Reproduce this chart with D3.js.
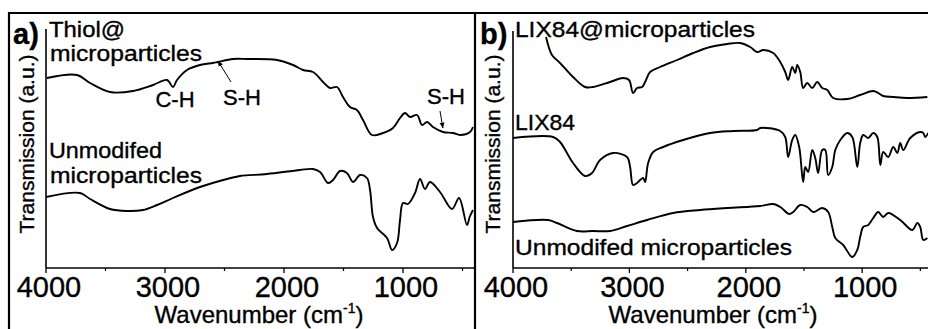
<!DOCTYPE html>
<html>
<head>
<meta charset="utf-8">
<script src="https://cdn.jsdelivr.net/npm/d3@7"></script>
<style>
  body { margin: 0; background: #fff; }
  svg { display: block; font-family: "Liberation Sans", Arial, sans-serif; }
  text { stroke: #000; stroke-width: 0.35px; }
</style>
</head>
<body>
<svg id="chart" width="928" height="329"></svg>
<script>
// panel a, Thiol@microparticles
const thiolWn = [3992, 3739, 3630, 3462, 3269, 3101, 2983, 2933, 2899, 2815, 2706, 2597, 2555, 2429, 2311, 2059, 1924, 1840, 1756, 1672, 1613, 1555, 1504, 1445, 1387, 1336, 1261, 1168, 1084, 1025, 983, 941, 882, 840, 798, 748, 664, 580, 521, 437, 412];
const thiolT  = [190, 193, 185, 176, 177, 183, 188, 181, 188, 198, 203, 205, 206, 209, 209, 208, 203, 198, 196, 186, 180, 181, 171, 161, 158, 148, 133, 135, 140, 150, 155, 151, 153, 143, 146, 141, 136, 135, 133, 136, 141];

// panel a, unmodified microparticles
const unmodAWn = [4000, 3714, 3630, 3462, 3319, 3185, 3067, 2933, 2706, 2479, 2370, 2143, 1866, 1756, 1697, 1630, 1588, 1529, 1471, 1420, 1361, 1303, 1277, 1252, 1218, 1134, 1092, 1050, 1025, 1000, 958, 899, 857, 815, 773, 689, 588, 529, 462, 440, 412];
const unmodAT  = [71, 75, 69, 59, 57, 58, 63, 70, 81, 89, 92, 94, 98, 99, 96, 85, 88, 97, 95, 86, 93, 90, 78, 51, 40, 30, 18, 25, 48, 65, 64, 75, 89, 79, 86, 76, 59, 70, 43, 51, 58];

// panel b, LIX84@microparticles
const lixMpWn = [3716, 3665, 3596, 3484, 3381, 3312, 3166, 3054, 3003, 2968, 2934, 2891, 2865, 2822, 2736, 2590, 2452, 2306, 2160, 2048, 1962, 1902, 1850, 1764, 1704, 1661, 1636, 1601, 1575, 1558, 1532, 1507, 1472, 1429, 1386, 1343, 1300, 1249, 1128, 1017, 905, 862, 819, 733, 612, 440];
const lixMpT  = [231, 213, 205, 191, 181, 181, 186, 190, 188, 175, 180, 181, 186, 196, 201, 208, 215, 221, 224, 225, 221, 216, 218, 215, 206, 196, 188, 201, 195, 203, 196, 180, 185, 180, 186, 180, 178, 170, 169, 173, 177, 175, 172, 171, 170, 171];

// panel b, LIX84
const lixWn = [4000, 3656, 3596, 3484, 3381, 3321, 3252, 3140, 3020, 2994, 2968, 2934, 2908, 2882, 2865, 2839, 2796, 2710, 2538, 2306, 2108, 1902, 1876, 1704, 1661, 1636, 1601, 1575, 1541, 1507, 1489, 1464, 1429, 1403, 1378, 1343, 1317, 1292, 1257, 1231, 1188, 1128, 1085, 1042, 1017, 991, 948, 905, 870, 844, 819, 776, 733, 698, 673, 647, 587, 501, 475, 458, 432];
const lixT  = [130, 131, 126, 105, 92, 95, 108, 115, 111, 101, 83, 85, 88, 90, 86, 105, 116, 121, 128, 135, 137, 138, 140, 137, 131, 111, 128, 133, 121, 86, 101, 96, 118, 110, 95, 118, 118, 93, 101, 118, 128, 135, 131, 101, 125, 133, 130, 135, 131, 103, 116, 111, 121, 115, 125, 118, 130, 136, 135, 131, 135];

// panel b, unmodified microparticles
const unmodBWn = [4000, 3699, 3622, 3450, 3312, 3166, 3020, 2848, 2624, 2392, 2160, 1876, 1764, 1704, 1627, 1592, 1532, 1472, 1420, 1343, 1292, 1257, 1231, 1163, 1085, 1042, 1017, 991, 948, 905, 862, 819, 776, 673, 569, 526, 501, 475, 440];
const unmodBT  = [46, 48, 45, 37, 37, 37, 42, 48, 55, 58, 60, 62, 64, 61, 54, 56, 63, 61, 56, 60, 56, 41, 30, 23, 11, 18, 31, 41, 43, 50, 56, 51, 55, 48, 38, 45, 41, 28, 30];

const xTicks = [4000, 3000, 2000, 1000];
const xMinor = [3500, 2500, 1500, 500];

const svg = d3.select("#chart");
const yTop = 29, yBottom = 268;
const y = d3.scaleLinear().domain([0, 240]).range([yBottom, yBottom - 240]);

const zip = (wn, t) => wn.map((w, i) => ({ w: w, t: t[i] }));

// frame lines
svg.append("path")
  .attr("d", "M9,329 V13 H928 M475,13 V329")
  .attr("fill", "none").attr("stroke", "#000").attr("stroke-width", 2.2);

const defs = svg.append("defs");
defs.append("marker").attr("id", "arrow")
  .attr("viewBox", "0 0 10 10").attr("refX", 9).attr("refY", 5)
  .attr("markerWidth", 6).attr("markerHeight", 6).attr("orient", "auto")
  .append("path").attr("d", "M0,1 L10,5 L0,9 Z").attr("fill", "#000");

function drawPanel(opt) {
  const x = d3.scaleLinear().domain([4000, 400]).range([opt.x0, opt.x1]);
  const g = svg.append("g");

  defs.append("clipPath").attr("id", "clip" + opt.id)
    .append("rect").attr("x", opt.x0).attr("y", 0)
    .attr("width", opt.clipR - opt.x0).attr("height", 329);

  // axes
  g.append("line").attr("x1", opt.x0).attr("x2", opt.x0)
    .attr("y1", opt.axTop).attr("y2", yBottom)
    .attr("stroke", "#000").attr("stroke-width", 1.6);
  g.append("line").attr("x1", opt.x0).attr("x2", opt.clipR)
    .attr("y1", yBottom).attr("y2", yBottom)
    .attr("stroke", "#000").attr("stroke-width", 1.6);

  g.selectAll(".maj").data(xTicks).enter().append("line")
    .attr("x1", d => x(d)).attr("x2", d => x(d))
    .attr("y1", yBottom).attr("y2", yBottom + 5)
    .attr("stroke", "#000").attr("stroke-width", 1.3);
  g.selectAll(".min").data(xMinor).enter().append("line")
    .attr("x1", d => x(d)).attr("x2", d => x(d))
    .attr("y1", yBottom).attr("y2", yBottom + 3)
    .attr("stroke", "#000").attr("stroke-width", 1.2);

  g.selectAll(".tl").data(xTicks).enter().append("text")
    .attr("x", d => x(d) + 3).attr("y", 297)
    .attr("text-anchor", "middle").attr("font-size", 29)
    .text(d => d);

  const title = g.append("text")
    .attr("x", opt.titleX).attr("y", 323)
    .attr("text-anchor", "middle").attr("font-size", 24);
  title.append("tspan").text("Wavenumber (cm");
  title.append("tspan").attr("font-size", 14).attr("dy", -10).text("-1");
  title.append("tspan").attr("dy", 10).text(")");

  g.append("text")
    .attr("transform", `translate(${opt.yLabX},144) rotate(-90)`)
    .attr("text-anchor", "middle").attr("font-size", 21)
    .text("Transmission (a.u.)");

  g.append("text").attr("x", opt.tagX).attr("y", 44)
    .attr("font-size", 29).attr("font-weight", "bold").text(opt.tag);

  const line = d3.line().x(d => x(d.w)).y(d => y(d.t)).curve(d3.curveCatmullRom.alpha(0.5));
  opt.series.forEach(s => {
    g.append("path").datum(zip(s[0], s[1]))
      .attr("clip-path", `url(#clip${opt.id})`)
      .attr("d", line)
      .attr("fill", "none").attr("stroke", "#000")
      .attr("stroke-width", 1.9).attr("stroke-linejoin", "round");
  });

  opt.labels.forEach(l => {
    const t = g.append("text").attr("x", l[0]).attr("y", l[1])
      .attr("font-size", l[3] || 21.5).attr("text-anchor", l[4] || "start").text(l[2]);
    if (l[5]) t.attr("textLength", l[5]).attr("lengthAdjust", "spacingAndGlyphs");
  });
  return { g: g, x: x };
}

const pa = drawPanel({
  id: "a", x0: 46, x1: 474.4, clipR: 474, axTop: yTop, titleX: 259, yLabX: 34, tagX: 13, tag: "a)",
  series: [[thiolWn, thiolT], [unmodAWn, unmodAT]],
  labels: [
    [49, 37, "Thiol@", 21.5, "start", 76], [50, 61, "microparticles", 21.5, "start", 152],
    [175, 107, "C-H", 22, "middle"], [242, 105, "S-H", 22, "middle"], [446, 104, "S-H", 22, "middle"],
    [49, 158, "Unmodifed", 21.5, "start", 113], [50, 183, "microparticles", 21.5, "start", 152]
  ]
});

// arrows to the S-H bands
pa.g.append("line").attr("x1", 231).attr("y1", 82).attr("x2", pa.x(2555)).attr("y2", y(207))
  .attr("stroke", "#000").attr("stroke-width", 1).attr("marker-end", "url(#arrow)");
pa.g.append("line").attr("x1", 440).attr("y1", 111).attr("x2", pa.x(665)).attr("y2", y(140))
  .attr("stroke", "#000").attr("stroke-width", 1).attr("marker-end", "url(#arrow)");

drawPanel({
  id: "b", x0: 513, x1: 932, clipR: 928, axTop: 31, titleX: 713, yLabX: 500, tagX: 480, tag: "b)",
  series: [[lixMpWn, lixMpT], [lixWn, lixT], [unmodBWn, unmodBT]],
  labels: [
    [515, 37, "LIX84@microparticles", 22.5, "start", 240], [515, 130, "LIX84", 22.5, "start", 60],
    [515, 255, "Unmodifed microparticles", 22.5, "start", 277]
  ]
});
</script>
</body>
</html>
